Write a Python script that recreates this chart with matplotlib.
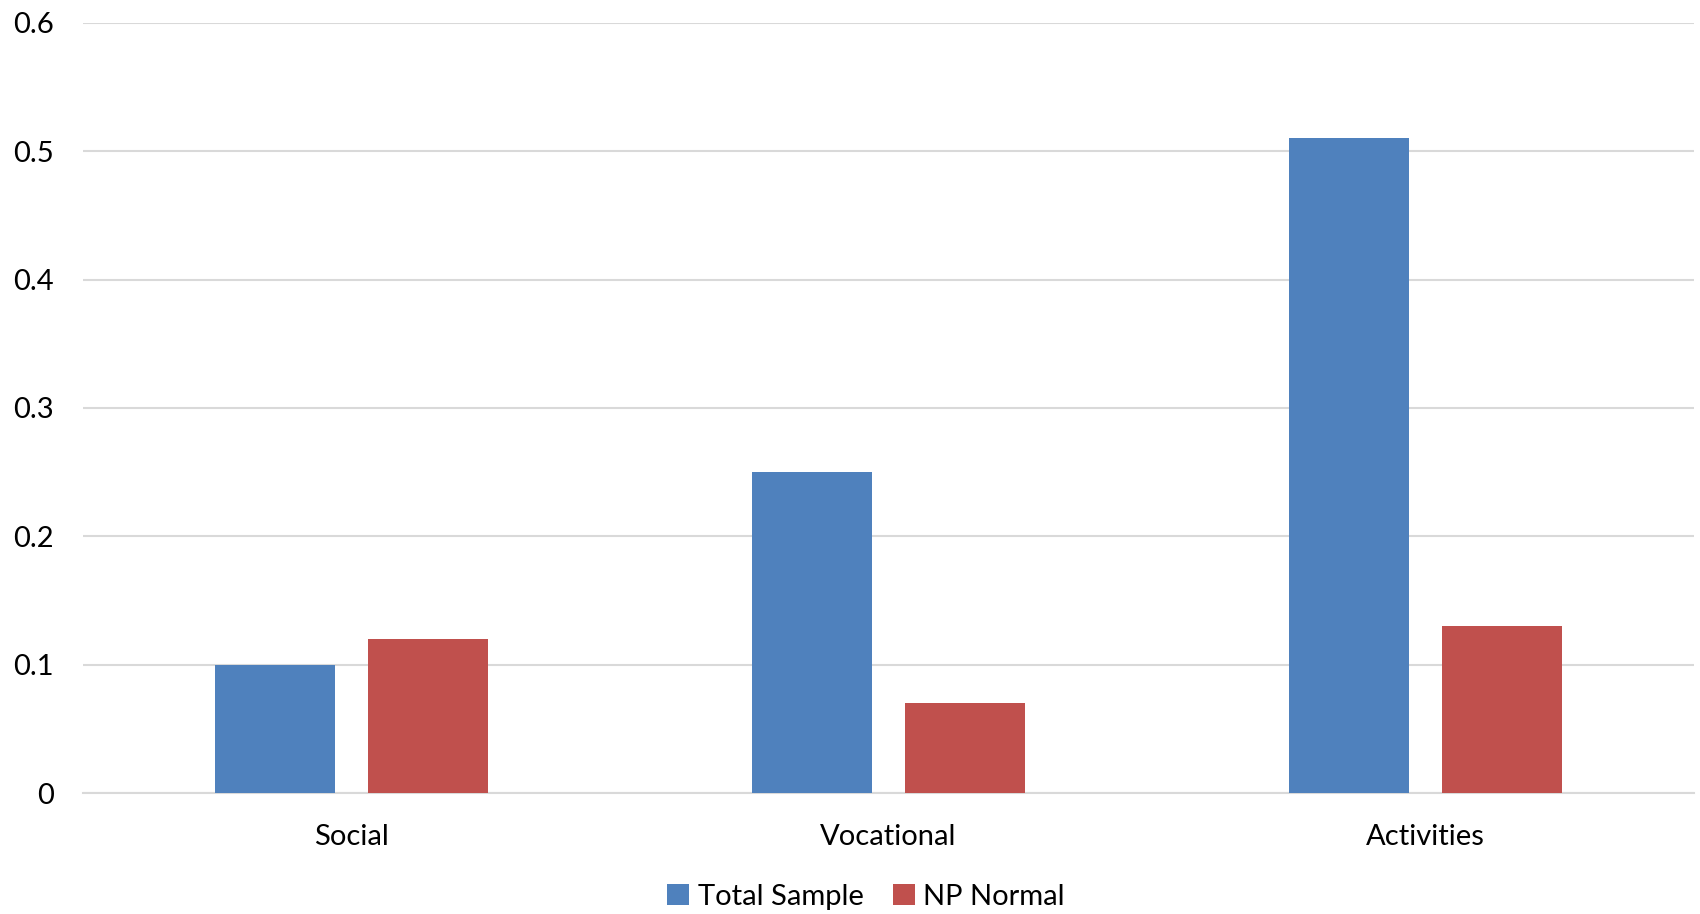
import matplotlib
matplotlib.use("Agg")
import matplotlib.pyplot as plt
import numpy as np

categories = ["Social", "Vocational", "Activities"]
total_sample = [0.10, 0.25, 0.51]
np_normal = [0.12, 0.07, 0.13]
yticks = [0, 0.1, 0.2, 0.3, 0.4, 0.5, 0.6]
ytick_labels = ["0", "0.1", "0.2", "0.3", "0.4", "0.5", "0.6"]

plt.rcParams['font.family'] = ['Lato', 'DejaVu Sans']

fig = plt.figure(figsize=(17, 9.14), dpi=100)
ax = fig.add_axes([83/1700, 1 - 793/914, (1694-83)/1700, (793-23)/914])

x = np.arange(len(categories))
w = 0.2235
off = 0.1425
ax.bar(x - off, total_sample, w, color="#4F81BD", label="Total Sample", zorder=3)
ax.bar(x + off, np_normal, w, color="#C0504D", label="NP Normal", zorder=3)

ax.set_xlim(-0.5, 2.5)
ax.set_ylim(0, 0.6)
ax.set_yticks(yticks)
ax.set_yticklabels(ytick_labels, fontsize=21)
ax.set_xticks(x)
ax.set_xticklabels(categories, fontsize=21)
ax.tick_params(axis='y', length=0, pad=21)
ax.tick_params(axis='x', length=0, pad=22)
ax.grid(axis='y', color="#d9d9d9", linewidth=1.5, zorder=0)
for s in ax.spines.values():
    s.set_visible(False)
ax.axhline(0, color="#d9d9d9", linewidth=1.5, zorder=2, clip_on=False)

ax.legend(loc="center", bbox_to_anchor=(0.486, -0.135), ncol=2, frameon=False,
          fontsize=21, handlelength=0.75, handleheight=0.75, handletextpad=0.3,
          columnspacing=1.0)

fig.savefig("out.png", dpi=100)
